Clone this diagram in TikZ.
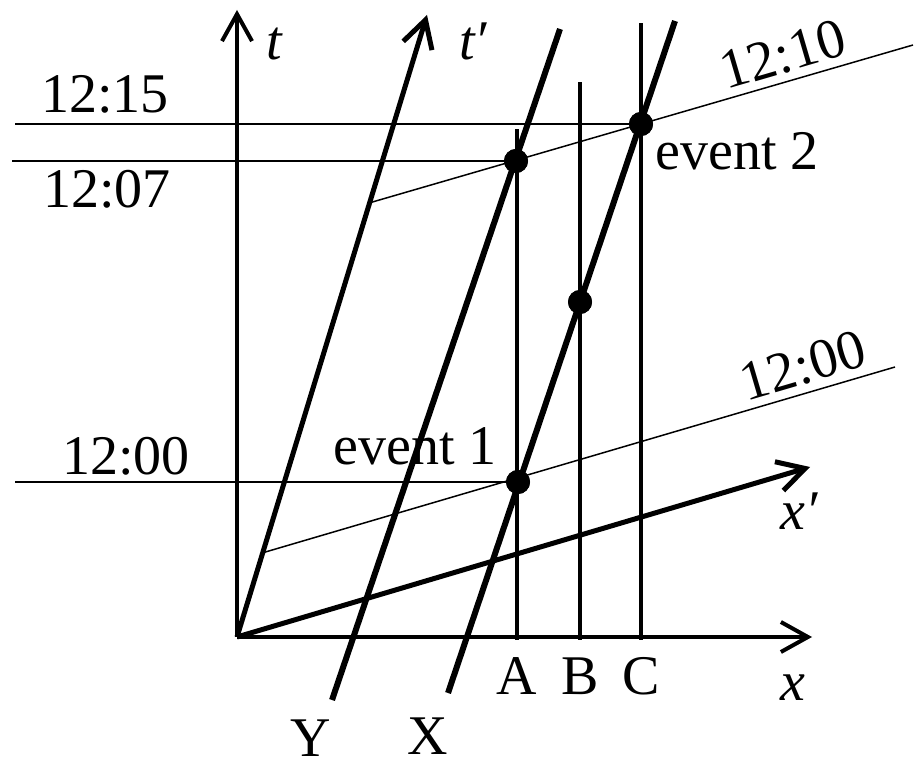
\documentclass[tikz,border=0pt]{standalone}
\usepackage{fontspec}
\setmainfont{Liberation Serif}
\usetikzlibrary{arrows.meta}

\begin{document}
\begin{tikzpicture}[x=0.5pt, y=-0.5pt,
  axis/.style={line width=2pt, -{Straight Barb[length=13.5pt,width=15pt]}},
  paxis/.style={axis, line width=2.5pt},
  wline/.style={line width=3pt},
  post/.style={line width=2pt},
  simul/.style={line width=0.75pt},
  evt/.style={circle, fill=black, inner sep=0pt, minimum size=12pt},
  lbl/.style={font=\fontsize{28}{32}\selectfont, inner sep=0pt},
]
\useasboundingbox (0,0) rectangle (915,763);

% frames
\coordinate (O)    at (237,637);
\coordinate (tend) at (237,10);
\coordinate (xend) at (812,637);
\coordinate (tpe)  at (427,15);
\coordinate (xpe)  at (810,467);

% world lines and posts
\coordinate (Yb) at (332,700);  \coordinate (Yt) at (560,29);
\coordinate (Xb) at (448,693);  \coordinate (Xt) at (675,21);
\coordinate (Ab) at (517,640);  \coordinate (At) at (517,129);
\coordinate (Bb) at (580,640);  \coordinate (Bt) at (580,82);
\coordinate (Cb) at (641,640);  \coordinate (Ct) at (641,23);

% events
\node[evt] (e1) at (518,482) {};
\node[evt] (e2) at (641,124) {};
\node[evt] (eA) at (516,161) {};
\node[evt] (eB) at (580,302) {};

% simultaneity lines
\coordinate (h15) at (15,124);
\coordinate (h07) at (12,161);
\coordinate (h00) at (15,482);
\coordinate (s10a) at (369,203); \coordinate (s10b) at (913,45);
\coordinate (s00a) at (262,553); \coordinate (s00b) at (895,367);

\foreach \a/\b in {h15/e2.center, h07/eA.center, h00/e1.center, s10a/s10b, s00a/s00b}{ \draw[simul] (\a) -- (\b); }
\foreach \a/\b in {Ab/At, Bb/Bt, Cb/Ct}{ \draw[post] (\a) -- (\b); }
\foreach \a/\b in {Yb/Yt, Xb/Xt}{ \draw[wline] (\a) -- (\b); }

\draw[axis]  (O) -- (tend);
\draw[axis]  (O) -- (xend);
\draw[paxis] (O) -- (tpe);
\draw[paxis] (O) -- (xpe);

\foreach \e in {e1, e2, eA, eB}{ \fill (\e) circle (6pt); }

% labels
\node[lbl, anchor=base west] (lt)  at (266,60) {\textit{t}};
\node[lbl, anchor=base west] (ltp) at (459,60) {\textit{t′}};
\node[lbl, anchor=base west] (l15) at (41,113) {12:15};
\node[lbl, anchor=base west] (l07) at (43,208) {12:07};
\node[lbl, anchor=base west] (l00) at (62,475) {12:00};
\node[lbl, anchor=base west] (le1) at (333,465) {event 1};
\node[lbl, anchor=base west] (le2) at (655,170) {event 2};
\node[lbl, anchor=base, rotate=16.3] (l10s) at (788,72) {12:10};
\node[lbl, anchor=base, rotate=16.4] (l00s) at (808,383) {12:00};
\node[lbl, anchor=base west] (lxp) at (780,530) {\textit{x′}};
\node[lbl, anchor=base] (lx) at (793,700) {\textit{x}};
\foreach \n/\x in {A/517, B/580, C/641}{ \node[lbl, anchor=base] (l\n) at (\x,695) {\n}; }
\node[lbl, anchor=base] (lY) at (311,756) {Y};
\node[lbl, anchor=base] (lX) at (428,754) {X};
\end{tikzpicture}
\end{document}
